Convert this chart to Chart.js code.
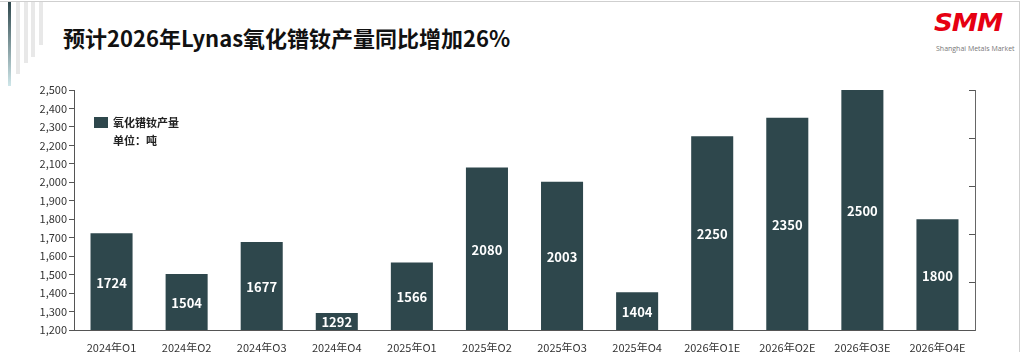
<!DOCTYPE html>
<html>
<head>
<meta charset="utf-8">
<script src="https://cdn.jsdelivr.net/npm/chart.js@4"></script>
<style>
  html, body { margin: 0; padding: 0; background: #fff; }
  #wrap { position: relative; width: 1024px; height: 352px; overflow: hidden; font-family: "Noto Sans CJK SC", "Noto Sans", sans-serif; }
  #frame { position: absolute; left: 0; top: 1px; width: 1019px; height: 360px; border-top: 1px solid #cfcfcf; border-right: 1px solid #cfcfcf; }
  .deco { position: absolute; top: 2px; width: 4px; background: #e8e8e8; }
  #title { position: absolute; left: 63px; top: 24px; font-size: 22px; font-weight: 700; color: #111; line-height: 26px; white-space: nowrap; }
  #logo { position: absolute; left: 934px; top: 9px; font-size: 25px; font-weight: 900; font-style: italic; color: #e60012; letter-spacing: -1px; font-family: "DejaVu Sans", sans-serif; line-height: 28px; transform: scaleX(1.05); transform-origin: left; }
  #logo2 { position: absolute; left: 936px; top: 45px; font-size: 7px; color: #777; white-space: nowrap; font-family: "Open Sans", sans-serif; line-height: 8px; }
  canvas { position: absolute; left: 0; top: 0; }
</style>
</head>
<body>
<div id="wrap">
  <div id="frame"></div>
  <div class="deco" style="left:8px;width:3px;height:84px;background:linear-gradient(#2e474c,#cfe7ea);"></div>
  <div class="deco" style="left:16px;height:72px;"></div>
  <div class="deco" style="left:24px;height:61px;"></div>
  <div class="deco" style="left:31px;height:55px;"></div>
  <div class="deco" style="left:39px;height:43px;"></div>
  <div id="title">预计2026年Lynas氧化镨钕产量同比增加26%</div>
  <div id="logo">SMM</div>
  <div id="logo2">Shanghai Metals Market</div>
  <canvas id="chart" width="1024" height="352"></canvas>
</div>
<script>
// 数据
const quarters = ['2024年Q1', '2024年Q2', '2024年Q3', '2024年Q4', '2025年Q1', '2025年Q2', '2025年Q3', '2025年Q4', '2026年Q1E', '2026年Q2E', '2026年Q3E', '2026年Q4E'];
const output = [1724, 1504, 1677, 1292, 1566, 2080, 2003, 1404, 2250, 2350, 2500, 1800];
const seriesName = '氧化镨钕产量';
const unitText = '单位：吨';
const yMin = 1200, yMax = 2500, yStep = 100;

const barColor = '#2e474c';
const fontFamily = '"Noto Sans CJK SC", "Noto Sans", sans-serif';

// 柱内数值 + 图例 + 右侧轴刻度
const extras = {
    id: 'extras',
    afterDatasetsDraw(chart) {
        const ctx = chart.ctx;
        const meta = chart.getDatasetMeta(0);
        const bottom = chart.chartArea.bottom;
        ctx.save();
        ctx.fillStyle = '#fff';
        ctx.font = 'bold 13px ' + fontFamily;
        ctx.textAlign = 'center';
        ctx.textBaseline = 'middle';
        meta.data.forEach((bar, i) => {
            ctx.fillText(String(output[i]), bar.x, (bar.y + bottom) / 2 + 1);
        });

        // 图例
        ctx.fillStyle = barColor;
        ctx.fillRect(94, 117, 14, 11);
        ctx.fillStyle = '#222';
        ctx.font = 'bold 11px ' + fontFamily;
        ctx.textAlign = 'left';
        ctx.fillText(seriesName, 113, 123);
        ctx.fillText(unitText, 113, 141);

        // 右侧轴的内向刻度
        const y2 = chart.scales.y2;
        ctx.strokeStyle = '#555';
        ctx.lineWidth = 1;
        y2.ticks.forEach(t => {
            const py = Math.round(y2.getPixelForValue(t.value)) + 0.5;
            ctx.beginPath();
            ctx.moveTo(y2.left - 6, py);
            ctx.lineTo(y2.left, py);
            ctx.stroke();
        });
        ctx.restore();
    }
};

new Chart(document.getElementById('chart').getContext('2d'), {
    type: 'bar',
    data: {
        labels: quarters,
        datasets: [{
            label: seriesName,
            data: output,
            backgroundColor: barColor,
            categoryPercentage: 1,
            barPercentage: 0.56
        }]
    },
    options: {
        responsive: false,
        animation: false,
        layout: { padding: { left: 0, right: 0, top: 90, bottom: 0 } },
        plugins: {
            legend: { display: false },
            tooltip: { enabled: false }
        },
        scales: {
            x: {
                grid: { display: false },
                border: { color: '#555', width: 1 },
                ticks: { color: '#333', font: { family: fontFamily, size: 11 }, padding: 3, maxRotation: 0 },
                afterFit: s => { s.height = 22; }
            },
            y: {
                min: yMin,
                max: yMax,
                grid: { drawOnChartArea: false, tickLength: 5, color: '#555' },
                border: { color: '#555', width: 1 },
                ticks: { stepSize: yStep, color: '#333', font: { family: fontFamily, size: 11 }, padding: 2 },
                afterFit: s => { s.width = 74; }
            },
            y2: {
                position: 'right',
                min: 0,
                max: 5,
                grid: { drawOnChartArea: false, drawTicks: false },
                border: { color: '#666', width: 1 },
                ticks: { display: false, stepSize: 1 },
                afterFit: s => { s.width = 49; }
            }
        }
    },
    plugins: [extras]
});
</script>
</body>
</html>
